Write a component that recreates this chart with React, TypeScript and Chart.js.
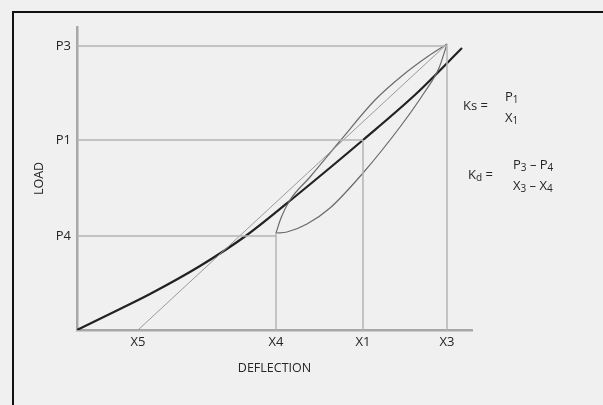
import { useEffect, useRef } from "react";
import { Chart, registerables } from "chart.js";

Chart.register(...registerables);

// Axis ticks (symbolic labels at read-off positions)
const xTickLabels = ["X5", "X4", "X1", "X3"];
const xTickValues = [61, 199, 286, 370];
const yTickLabels = ["P4", "P1", "P3"];
const yTickValues = [94, 190, 284];

// Static load-deflection curve
const staticCurve: [number, number][] = [
  [0, 0], [43, 21], [73, 36], [123, 64], [170, 95], [220, 135],
  [286, 190], [340, 237], [385, 282],
];

// Hysteresis loop – upper (loading) branch
const loopUpper: [number, number][] = [
  [199, 97], [204, 112], [213, 130], [233, 153], [263, 189],
  [298, 230], [326, 255], [350, 273], [370, 286],
];

// Hysteresis loop – lower (unloading) branch
const loopLower: [number, number][] = [
  [199, 97], [210, 98], [230, 106], [253, 122], [286, 157],
  [323, 203], [347, 237], [362, 262], [370, 286],
];

const X_MAX = 395;
const Y_MAX = 303;

const pts = (a: [number, number][]) => a.map(([x, y]) => ({ x, y }));

const FONT = "'Open Sans', 'Liberation Sans', sans-serif";
const TEXT = "#262626";

function drawParts(
  ctx: CanvasRenderingContext2D,
  parts: [string, boolean][],
  x: number,
  y: number
) {
  let cx = x;
  for (const [t, sub] of parts) {
    ctx.font = sub ? `10px ${FONT}` : `13px ${FONT}`;
    ctx.fillText(t, cx, sub ? y + 3 : y);
    cx += ctx.measureText(t).width;
  }
}

const framePlugin = {
  id: "frame",
  beforeDraw(chart: any) {
    const ctx = chart.ctx as CanvasRenderingContext2D;
    ctx.save();
    ctx.fillStyle = "#f0f0f0";
    ctx.fillRect(0, 0, chart.width, chart.height);
    ctx.fillStyle = "#111";
    ctx.fillRect(12, 11, chart.width - 12, 2);
    ctx.fillRect(12, 11, 2, chart.height - 11);
    ctx.restore();
  },
  afterDraw(chart: any) {
    const ctx = chart.ctx as CanvasRenderingContext2D;
    ctx.save();
    ctx.fillStyle = TEXT;
    ctx.textBaseline = "middle";
    ctx.textAlign = "left";
    drawParts(ctx, [["Ks =", false]], 463, 106);
    drawParts(ctx, [["P", false], ["1", true]], 505, 97);
    drawParts(ctx, [["X", false], ["1", true]], 505, 118);
    drawParts(ctx, [["K", false], ["d", true], [" =", false]], 468, 175);
    drawParts(ctx, [["P", false], ["3", true], [" \u2013 P", false], ["4", true]], 513, 165);
    drawParts(ctx, [["X", false], ["3", true], [" \u2013 X", false], ["4", true]], 513, 186);
    ctx.restore();
  },
};

export default function App() {
  const ref = useRef<HTMLCanvasElement | null>(null);

  useEffect(() => {
    if (!ref.current) return;
    const [x5, x4, x1, x3] = xTickValues;
    const [p4, p1, p3] = yTickValues;
    const tipLow = loopLower[0];
    const tipHigh = loopUpper[loopUpper.length - 1];

    const refLine = (a: [number, number][]) => ({
      data: pts(a),
      borderColor: "#b4b4b4",
      borderWidth: 1.5,
      pointRadius: 0,
      tension: 0,
    });

    const chart = new Chart(ref.current, {
      type: "line",
      data: {
        datasets: [
          refLine([[0, p3], [x3, p3]]),
          refLine([[0, p1], [x1, p1]]),
          refLine([[0, p4], [x4, p4]]),
          refLine([[x4, 0], [x4, tipLow[1]]]),
          refLine([[x1, 0], [x1, p1]]),
          refLine([[x3, 0], [x3, p3]]),
          {
            data: pts([[x5, 0], tipHigh]),
            borderColor: "#9a9a9a",
            borderWidth: 1,
            pointRadius: 0,
            tension: 0,
          },
          {
            data: pts(loopUpper),
            borderColor: "#6a6a6a",
            borderWidth: 1.2,
            pointRadius: 0,
            cubicInterpolationMode: "monotone",
          },
          {
            data: pts(loopLower),
            borderColor: "#6a6a6a",
            borderWidth: 1.2,
            pointRadius: 0,
            cubicInterpolationMode: "monotone",
          },
          {
            data: pts(staticCurve),
            borderColor: "#222",
            borderWidth: 2.2,
            pointRadius: 0,
            cubicInterpolationMode: "monotone",
          },
        ] as any,
      },
      options: {
        animation: false,
        responsive: true,
        maintainAspectRatio: false,
        layout: { padding: { left: 0, top: 27, right: 131, bottom: 0 } },
        plugins: {
          legend: { display: false },
          tooltip: { enabled: false },
        },
        elements: { line: { fill: false } },
        scales: {
          x: {
            type: "linear",
            min: 0,
            max: X_MAX,
            grid: { display: false, drawTicks: false },
            border: { display: true, color: "#a8a8a8", width: 2.5 },
            afterBuildTicks: (s: any) => {
              s.ticks = xTickValues.map((v) => ({ value: v }));
            },
            afterFit: (s: any) => {
              s.height = 75;
            },
            ticks: {
              autoSkip: false,
              maxRotation: 0,
              padding: 4,
              color: TEXT,
              font: { family: FONT, size: 13 },
              callback: (_v: any, i: number) => xTickLabels[i],
            },
            title: {
              display: true,
              text: "DEFLECTION",
              color: TEXT,
              font: { family: FONT, size: 12.5 },
              padding: { top: 0, bottom: 29 },
            },
          },
          y: {
            type: "linear",
            min: 0,
            max: Y_MAX,
            grid: { display: false, drawTicks: false },
            border: { display: true, color: "#a8a8a8", width: 2.5 },
            afterBuildTicks: (s: any) => {
              s.ticks = yTickValues.map((v) => ({ value: v }));
            },
            afterFit: (s: any) => {
              s.width = 77;
            },
            ticks: {
              autoSkip: false,
              padding: 6,
              color: TEXT,
              font: { family: FONT, size: 13 },
              callback: (_v: any, i: number) => yTickLabels[i],
            },
            title: {
              display: true,
              text: "LOAD",
              color: TEXT,
              font: { family: FONT, size: 12.5 },
              padding: { top: 32, bottom: 0 },
            },
          },
        },
      },
      plugins: [framePlugin],
    });
    return () => chart.destroy();
  }, []);

  return (
    <div
      style={{
        position: "fixed",
        left: 0,
        top: 0,
        width: 603,
        height: 405,
        background: "#f0f0f0",
      }}
    >
      <canvas ref={ref} />
    </div>
  );
}
